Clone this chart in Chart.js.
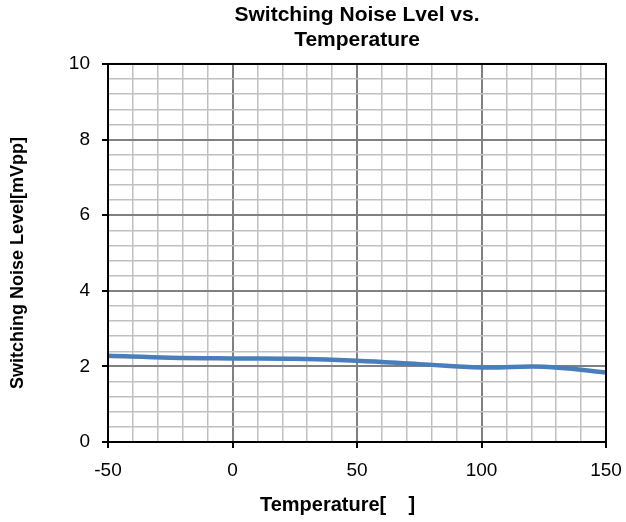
<!DOCTYPE html>
<html>
<head>
<meta charset="utf-8">
<script src="https://cdn.jsdelivr.net/npm/chart.js@4/dist/chart.umd.min.js"></script>
<style>
  html, body { margin: 0; padding: 0; background: #fff; }
  #wrap { width: 626px; height: 522px; }
</style>
</head>
<body>
<div id="wrap"><canvas id="noiseChart" width="626" height="522"></canvas></div>
<script>
// temperature points [°C] and measured noise [mVpp]
var temps = [-50, -25, 0, 25, 50, 75, 100, 125, 150];
var noise = [2.28, 2.23, 2.21, 2.20, 2.15, 2.06, 1.97, 1.99, 1.84];
var xTickLabels = [-50, 0, 50, 100, 150];
var yTickLabels = [0, 2, 4, 6, 8, 10];

var FONT = "'Liberation Sans', Arial, sans-serif";

function isLabel(list, v) {
    for (var i = 0; i < list.length; i++) {
        if (Math.abs(list[i] - v) < 1e-6) return true;
    }
    return false;
}

// black frame round the plot area
var frame = {
    id: 'frame',
    afterDatasetsDraw: function(chart) {
        var a = chart.chartArea, c = chart.ctx;
        c.save();
        c.strokeStyle = '#000';
        c.lineWidth = 2;
        c.strokeRect(a.left, a.top, a.right - a.left, a.bottom - a.top);
        c.restore();
    }
};

var ctx = document.getElementById('noiseChart').getContext('2d');
var points = temps.map(function(t, i) { return { x: t, y: noise[i] }; });

var noiseChart = new Chart(ctx, {
    type: 'line',
    data: {
        datasets: [{
            label: 'Noise',
            data: points,
            borderColor: '#4a7ebb',
            borderWidth: 4.5,
            pointRadius: 0,
            tension: 0.4,
            fill: false
        }]
    },
    options: {
        responsive: false,
        animation: false,
        layout: { padding: { left: 0, right: 20, top: 0, bottom: 0 } },
        plugins: {
            legend: { display: false },
            tooltip: { enabled: false },
            title: {
                display: true,
                fullSize: false,
                text: ['Switching Noise Lvel vs.', 'Temperature'],
                color: '#000',
                font: { family: FONT, size: 21, weight: 'bold', lineHeight: 1.19 },
                padding: { top: 3, bottom: 11 }
            }
        },
        scales: {
            x: {
                type: 'linear',
                min: -50,
                max: 150,
                afterFit: function(s) {
                    s.height = 80;
                    s.paddingLeft = 0;
                    s.paddingRight = 0;
                },
                ticks: {
                    stepSize: 10,
                    autoSkip: false,
                    maxRotation: 0,
                    padding: 11,
                    color: '#000',
                    font: { family: FONT, size: 19 },
                    callback: function(v) { return isLabel(xTickLabels, v) ? String(v) : ''; }
                },
                grid: {
                    color: function(c) {
                        return isLabel(xTickLabels, c.tick.value) ? '#808080' : '#c0c0c0';
                    },
                    lineWidth: function(c) {
                        return isLabel(xTickLabels, c.tick.value) ? 2 : 1.5;
                    },
                    tickLength: 6,
                    tickColor: function(c) {
                        return isLabel(xTickLabels, c.tick.value) ? '#000' : 'rgba(0,0,0,0)';
                    }
                },
                border: { color: '#000', width: 2 },
                title: {
                    display: true,
                    text: 'Temperature[    ]       ',
                    color: '#000',
                    font: { family: FONT, size: 20, weight: 'bold' },
                    padding: { top: 0, bottom: 5 }
                }
            },
            y: {
                min: 0,
                max: 10,
                afterFit: function(s) { s.width = 108; },
                ticks: {
                    stepSize: 0.4,
                    autoSkip: false,
                    padding: 12,
                    color: '#000',
                    font: { family: FONT, size: 19 },
                    callback: function(v) { return isLabel(yTickLabels, v) ? String(Math.round(v)) : ''; }
                },
                grid: {
                    color: function(c) {
                        return isLabel(yTickLabels, c.tick.value) ? '#808080' : '#c0c0c0';
                    },
                    lineWidth: function(c) {
                        return isLabel(yTickLabels, c.tick.value) ? 2 : 1.5;
                    },
                    tickLength: 6,
                    tickColor: function(c) {
                        return isLabel(yTickLabels, c.tick.value) ? '#000' : 'rgba(0,0,0,0)';
                    }
                },
                border: { color: '#000', width: 2 },
                title: {
                    display: true,
                    text: 'Switching Noise Level[mVpp]    ',
                    color: '#000',
                    font: { family: FONT, size: 18, weight: 'bold' },
                    padding: { top: 7, bottom: 4 }
                }
            }
        }
    },
    plugins: [frame]
});
</script>
</body>
</html>
